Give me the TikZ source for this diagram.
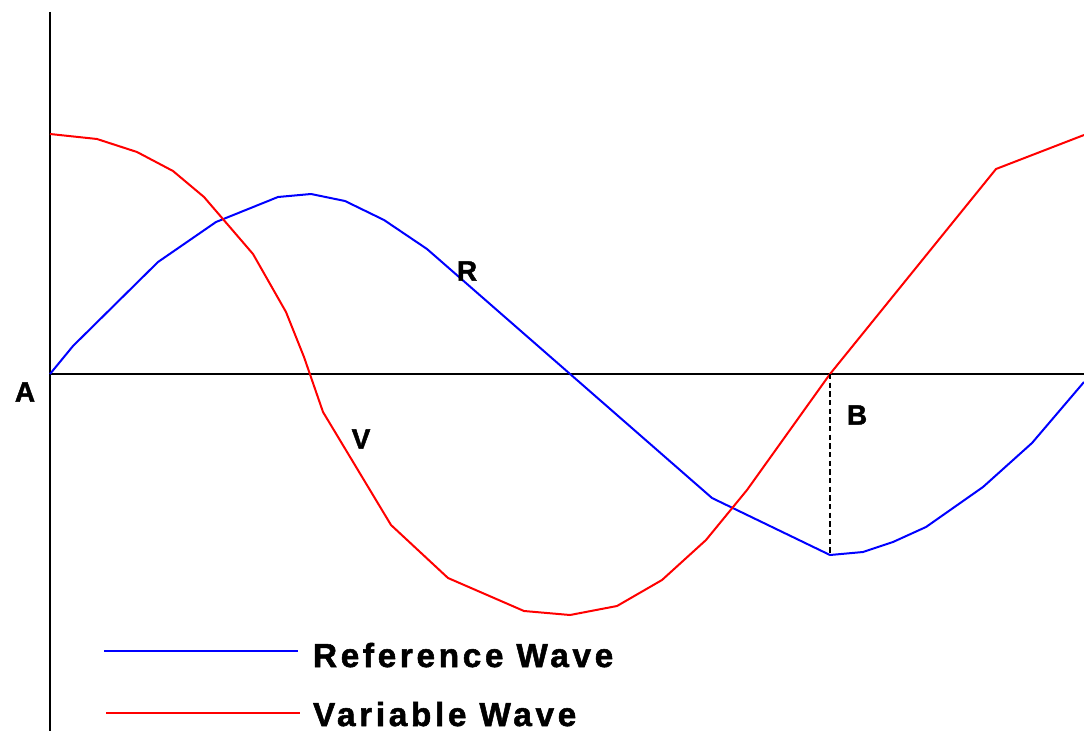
\documentclass[tikz,border=0pt]{standalone}
\usepackage{fontspec}
\newfontfamily\wavefont{Liberation Sans}[LetterSpace=11, BoldFeatures={FakeBold=1.6}]

\tikzset{every picture/.style={line width=1.5pt}}
\tikzset{
  refwave/.style={color={rgb, 255:red, 0; green, 0; blue, 255}, draw opacity=1, line join=round},
  varwave/.style={color={rgb, 255:red, 255; green, 0; blue, 0}, draw opacity=1, line join=round},
  ptlabel/.style={font=\wavefont\bfseries\fontsize{21}{25}\selectfont, inner sep=0pt},
  keylabel/.style={font=\wavefont\bfseries\fontsize{25}{30}\selectfont, inner sep=0pt, anchor=base west},
}

\begin{document}
\begin{tikzpicture}[x=0.75pt,y=0.75pt,yscale=-1,xscale=1]
\useasboundingbox (0,0) rectangle (1084,731);

% Axes
\coordinate (top) at (50,12);
\coordinate (bot) at (50,731);
\coordinate (org) at (50,374);
\coordinate (xend) at (1084,374);
\draw (top) -- (bot);
\draw (org) -- (xend);

%Shape: Polyline [reference wave]
\draw [refwave] (50,374) -- (73,346) -- (158,262) -- (216,222) -- (278,197) -- (311,194) -- (345,201) -- (384,220) -- (427,249) -- (712,498) -- (830,555) -- (863,552) -- (893,542) -- (926,527) -- (983,487) -- (1032,443) -- (1084,382) ;
%Shape: Polyline [variable wave]
\draw [varwave] (50,134) -- (97,139) -- (137,152) -- (173,171) -- (204,197) -- (253,254) -- (286,312) -- (304,357) -- (323,412) -- (391,525) -- (448,578) -- (524,611) -- (570,615) -- (617,606) -- (662,580) -- (706,540) -- (747,490) -- (830,374) -- (996,169) -- (1084,135) ;

% Dashed drop from B
\coordinate (ptB) at (830,374);
\coordinate (refmin) at (830,555);
\draw [dashed, dash pattern=on 4pt off 2.5pt, line width=1.2pt] (ptB) -- (refmin);

% Text Node
\node [ptlabel] (lblA) at (25,392) {A};
\node [ptlabel] (lblR) at (467,271) {R};
\node [ptlabel] (lblV) at (361,439) {V};
\node [ptlabel] (lblB) at (857,415) {B};

% Legend
\coordinate (keyRa) at (104,651);
\coordinate (keyRb) at (298,651);
\coordinate (keyVa) at (106,713);
\coordinate (keyVb) at (300,713);
\draw [refwave] (keyRa) -- (keyRb);
\draw [varwave] (keyVa) -- (keyVb);
\node [keylabel] (keyRtxt) at (312,667) {Reference Wave};
\node [keylabel] (keyVtxt) at (312,726) {Variable Wave};

\end{tikzpicture}
\end{document}
